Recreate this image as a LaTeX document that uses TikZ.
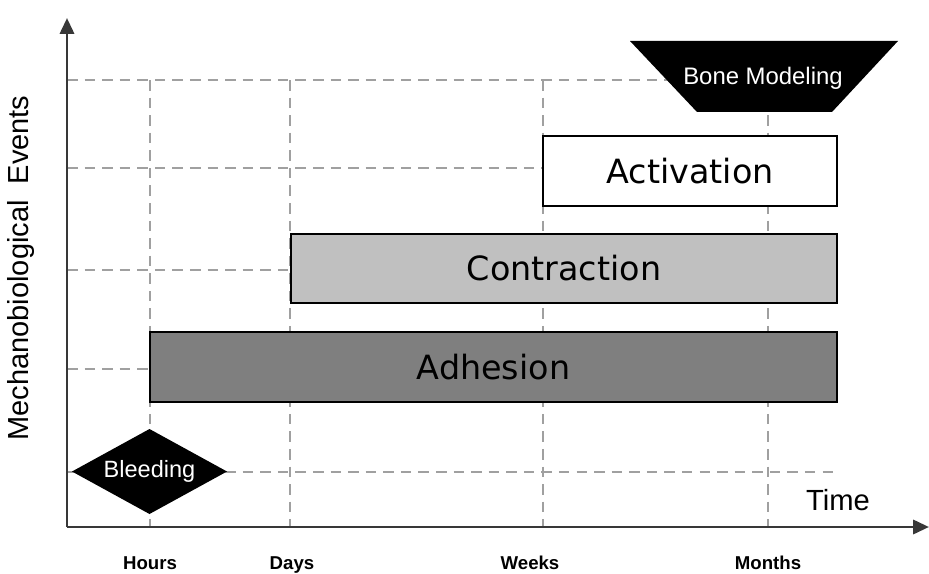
\documentclass[tikz,border=0pt]{standalone}
\usepackage{tikz}
\usetikzlibrary{arrows.meta, positioning}
\usepackage{fontspec}
\setmainfont{Liberation Sans}
\newfontfamily\evfont{DejaVu Sans}
\usepackage{xcolor}
\definecolor{clrAxis}{HTML}{383838}
\definecolor{clrGrid}{HTML}{A0A0A0}
\definecolor{clrAct}{HTML}{FFFFFF}
\definecolor{clrCon}{HTML}{C0C0C0}
\definecolor{clrAdh}{HTML}{7F7F7F}

\begin{document}
\begin{tikzpicture}[x=0.02cm, y=-0.02cm,
    evbox/.style={rectangle, draw=black, line width=1.1pt, inner sep=0pt,
                  minimum height=1.4cm, font=\evfont\fontsize{19}{22}\selectfont},
    guide/.style={draw=clrGrid, dashed, dash pattern=on 6pt off 4pt, line width=0.8pt},
    axis/.style={draw=clrAxis, line width=1.7pt, -{Triangle[length=9pt, width=8pt]}},
    tick/.style={anchor=base, font=\bfseries\fontsize{10.6}{12}\selectfont}]
  \useasboundingbox (0,0) rectangle (929,574);

  % grid guides
  \coordinate (o) at (67,527);
  \draw[guide] (67,80) -- (764,80);
  \draw[guide] (67,168) -- (690,168);
  \draw[guide] (67,270) -- (564,270);
  \draw[guide] (67,369) -- (493,369);
  \draw[guide] (67,472) -- (838,472);
  \foreach \gx in {150,290,543,768}
    \draw[guide] (\gx,80) -- (\gx,527);

  % axes
  \draw[axis] (o) -- (67,18);
  \draw[axis] (o) -- (929,527);

  % events
  \node[evbox, fill=clrAct, minimum width=5.88cm] (act) at (690,171) {Activation};
  \node[evbox, fill=clrCon, minimum width=10.92cm, minimum height=1.38cm] (con) at (564,268.5) {Contraction};
  \node[evbox, fill=clrAdh, minimum width=13.74cm] (adh) at (493.5,367) {Adhesion};

  \fill[black] (72,471.5) -- (149.5,429) -- (227,471.5) -- (149.5,514) -- cycle;
  \node[text=white, font=\fontsize{13.4}{15}\selectfont] (bleed) at (149.5,471.5) {Bleeding};
  \fill[black] (630,41) -- (898,41) -- (832,112) -- (697,112) -- cycle;
  \node[text=white, font=\fontsize{13.6}{15}\selectfont] (bone) at (763,78) {Bone Modeling};

  % labels
  \node[font=\fontsize{16.6}{18}\selectfont] (time) at (838,500) {Time};
  \node[rotate=90, font=\fontsize{16.5}{18}\selectfont] (ylab) at (21,268) {Mechanobiological\ \ Events};
  \node[tick] (hours) at (150,569) {Hours};
  \node[tick] (days) at (292,569) {Days};
  \node[tick] (weeks) at (530,569) {Weeks};
  \node[tick] (months) at (768,569) {Months};
\end{tikzpicture}
\end{document}
